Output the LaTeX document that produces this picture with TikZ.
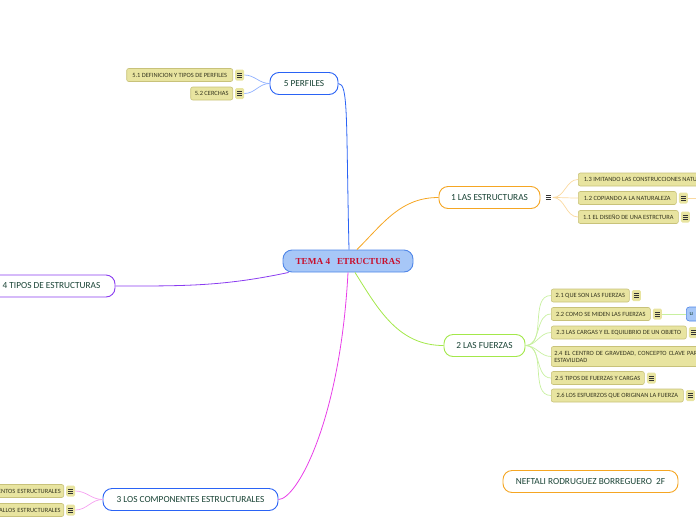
\documentclass[tikz,border=0pt]{standalone}
\usepackage{fontspec}
\setmainfont{Carlito}
\newfontfamily\titlefont{Liberation Serif}
\usetikzlibrary{positioning,calc}
\definecolor{topictext}{HTML}{1A4436}
\definecolor{subtext}{HTML}{35351F}
\definecolor{subfill}{HTML}{E8E4A0}
\definecolor{subline}{HTML}{C8C27A}
\definecolor{mainfill}{HTML}{A7C7F7}
\definecolor{mainline}{HTML}{4F86E8}
\definecolor{maintext}{HTML}{C8102E}
\definecolor{cblue}{HTML}{2A63F5}
\definecolor{corange}{HTML}{F5A623}
\definecolor{cgreen}{HTML}{A3E84A}
\definecolor{cpurple}{HTML}{8A3CF0}
\definecolor{cmagenta}{HTML}{E83EE8}
\definecolor{lblue}{HTML}{8FB0FF}
\definecolor{lorange}{HTML}{FAD9A0}
\definecolor{lgreen}{HTML}{C8F0A0}
\definecolor{lpink}{HTML}{F5A0F0}

\begin{document}
\begin{tikzpicture}[
  x=1pt,
  y=-1pt,
  topic/.style={draw, fill=white, rounded corners=9pt, line width=0.9pt, minimum height=22pt, inner xsep=0pt, font=\fontsize{9.3}{10}\selectfont, text=topictext},
  sub/.style={draw=subline, fill=subfill, rounded corners=2pt, line width=0.6pt, minimum height=13pt, inner xsep=3pt, inner ysep=1pt, font=\fontsize{6.4}{7}\selectfont, text=subtext},
  menu/.style={fill=subfill, rounded corners=1.5pt, minimum width=9pt, minimum height=11pt, inner sep=0pt,
    path picture={\foreach \k in {-1,0,1}
      \draw[line width=0.6pt, black!80] ([xshift=-2.4pt, yshift=\k*1.9pt]path picture bounding box.center) -- ++(4.8pt,0);}},
  link/.style={line width=0.8pt},
  sublink/.style={line width=0.7pt}
]
  \useasboundingbox (0,0) rectangle (696,520);

  % Central topic
  \node[draw=mainline, fill=mainfill, rounded corners=9pt, line width=0.9pt, minimum width=130pt, minimum height=22pt,
        font=\titlefont\bfseries\fontsize{9.2}{10}\selectfont, text=maintext] (central) at (348,261) {TEMA 4\ \ \ ETRUCTURAS};

  % Main topics
  \node[topic, draw=cblue, minimum width=68pt] (perf) at (304,83.5) {5 PERFILES};
  \node[topic, draw=corange, minimum width=101pt] (estr) at (489.5,197.5) {1 LAS ESTRUCTURAS};
  \node[topic, draw=cgreen, minimum width=81pt] (fuer) at (484.5,345.5) {2 LAS FUERZAS};
  \node[topic, draw=cpurple, minimum width=127pt] (tipos) at (51.5,286) {4 TIPOS DE ESTRUCTURAS};
  \node[topic, draw=cblue, minimum width=175pt] (comp) at (190.5,499.5) {3 LOS COMPONENTES ESTRUCTURALES};
  \node[topic, draw=corange, minimum width=175pt] (autor) at (590.5,481.5) {NEFTALI RODRUGUEZ BORREGUERO\ \ 2F};

  % Central to main topics
  \draw[link, cblue] ([xshift=1pt]central.north) .. controls +(-3,-130) and +(10,0) .. (perf.east);
  \draw[link, corange] ([xshift=9pt]central.north) to[out=45, in=180] (estr.west);
  \draw[link, cgreen] ([xshift=7pt]central.south) to[out=-58, in=180] (fuer.west);
  \draw[link, cmagenta] (central.south) .. controls +(-8,150) and +(18,0) .. (comp.east);
  \draw[link, cpurple] ([xshift=6pt]central.south west) to[out=192, in=0] (tipos.east);

  % 5 PERFILES
  \node[sub, anchor=east, minimum width=106pt] (s51) at (233,75) {5.1 DEFINICION Y TIPOS DE PERFILES};
  \node[sub, anchor=east, minimum width=42pt] (s52) at (233,93.5) {5.2 CERCHAS};
  \node[menu, right=2pt of s51] (m51) {};
  \node[menu, right=2pt of s52] (m52) {};
  \foreach \m in {m51,m52}
    \draw[sublink, lblue] (perf.west) to[out=180, in=0] (\m.east);

  % 1 LAS ESTRUCTURAS
  \node[menu, fill=none, right=3pt of estr] (m1) {};
  \node[sub, anchor=west, minimum width=140pt] (s13) at (578,179.5) {1.3 IMITANDO LAS CONSTRUCCIONES NATURALES};
  \node[sub, anchor=west, minimum width=98pt] (s12) at (578,198) {1.2 COPIANDO A LA NATURALEZA};
  \node[sub, anchor=west, minimum width=100pt] (s11) at (578,217) {1.1 EL DISEÑO DE UNA ESTRCTURA};
  \node[menu, right=2pt of s12] (m12) {};
  \node[menu, right=2pt of s11] (m11) {};
  \coordinate (e12) at (700,198);
  \foreach \s in {s13,s12,s11}
    \draw[sublink, lorange] (m1.east) to[out=0, in=180] (\s.west);
  \draw[sublink, lorange] (m12.east) -- (e12);

  % 2 LAS FUERZAS
  \node[sub, anchor=west, minimum width=78pt] (s21) at (551,295.5) {2.1 QUE SON LAS FUERZAS};
  \node[sub, anchor=west, minimum width=99pt] (s22) at (551,314) {2.2 COMO SE MIDEN LAS FUERZAS};
  \node[sub, anchor=west, minimum width=135pt] (s23) at (551,332.5) {2.3 LAS CARGAS Y EL EQUILIBRIO DE UN OBJETO};
  \node[sub, anchor=west, minimum height=20pt, text width=230pt, align=left] (s24) at (551,356.5)
    {2.4 EL CENTRO DE GRAVEDAD, CONCEPTO CLAVE PARA LA\\ESTAVILIDAD};
  \node[sub, anchor=west, minimum width=93pt] (s25) at (551,378) {2.5 TIPOS DE FUERZAS Y CARGAS};
  \node[sub, anchor=west, minimum width=132pt] (s26) at (551,395.5) {2.6 LOS ESFUERZOS QUE ORIGINAN LA FUERZA};
  \foreach \s in {s21,s22,s23,s25,s26}
    \node[menu, right=2pt of \s] (m\s) {};
  \node[draw=mainline, fill=mainfill, rounded corners=3pt, line width=0.6pt, minimum width=40pt, minimum height=14pt,
        anchor=west, text width=34pt, align=left, font=\fontsize{6.4}{7}\selectfont, text=topictext] (u) at (686,314) {u};
  \draw[sublink, lgreen] (ms22.east) -- (u.west);
  \foreach \s in {s21,s22,s23,s24,s25,s26}
    \draw[sublink, lgreen] (fuer.east) to[out=0, in=180] (\s.west);

  % 3 LOS COMPONENTES ESTRUCTURALES
  \node[sub, anchor=east, minimum width=80pt, text width=74pt, align=right] (s3a) at (64,491) {ENTOS ESTRUCTURALES};
  \node[sub, anchor=east, minimum width=80pt, text width=74pt, align=right] (s3b) at (64,510) {ALLOS ESTRUCTURALES};
  \node[menu, right=2pt of s3a] (m3a) {};
  \node[menu, right=2pt of s3b] (m3b) {};
  \foreach \m in {m3a,m3b}
    \draw[sublink, lpink] (comp.west) to[out=180, in=0] (\m.east);
\end{tikzpicture}
\end{document}
